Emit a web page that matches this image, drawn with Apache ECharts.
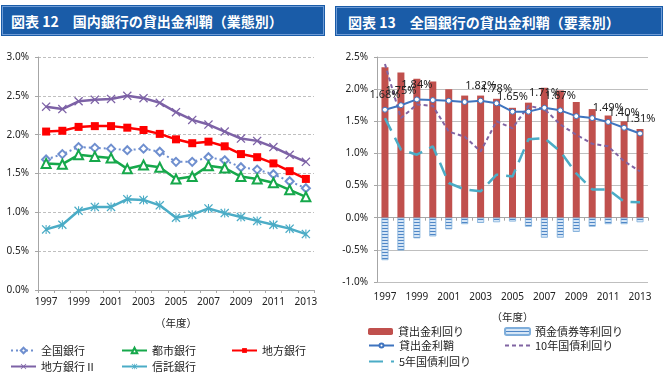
<!DOCTYPE html>
<html>
<head>
<meta charset="utf-8">
<script src="https://cdn.jsdelivr.net/npm/echarts@6/dist/echarts.min.js"></script>
<style>
html,body{margin:0;padding:0;background:#fff;}
#wrap{position:relative;width:667px;height:386px;overflow:hidden;}
#chart{position:absolute;left:0;top:0;width:667px;height:386px;}
.hdr{position:absolute;background:#1A5CA8;color:#fff;font-family:"Noto Sans CJK JP",sans-serif;font-weight:bold;font-size:14px;line-height:28px;box-sizing:border-box;border:1px solid #6E9BD6;outline:1px solid #1A5CA8;white-space:nowrap;}
</style>
</head>
<body>
<div id="wrap">
<div id="chart"></div>
<div class="hdr" style="left:2px;top:6px;width:322px;height:29px;padding-left:8px;">図表 12　国内銀行の貸出金利鞘（業態別）</div>
<div class="hdr" style="left:336px;top:7px;width:326px;height:28px;padding-left:11px;">図表 13　全国銀行の貸出金利鞘（要素別）</div>
</div>
<script>
// ---------- data ----------
var years = ['1997','1998','1999','2000','2001','2002','2003','2004','2005','2006','2007','2008','2009','2010','2011','2012','2013'];

// Chart 12 (%)
var zenkoku   = [1.68,1.75,1.84,1.83,1.82,1.80,1.82,1.78,1.65,1.65,1.71,1.67,1.58,1.55,1.49,1.40,1.31];
var toshi     = [1.63,1.62,1.74,1.72,1.70,1.56,1.61,1.58,1.43,1.46,1.60,1.57,1.46,1.43,1.38,1.29,1.20];
var chiho     = [2.04,2.05,2.10,2.11,2.11,2.09,2.06,2.01,1.94,1.89,1.91,1.85,1.75,1.71,1.63,1.53,1.43];
var chiho2    = [2.36,2.33,2.43,2.45,2.46,2.50,2.47,2.41,2.29,2.19,2.13,2.04,1.95,1.92,1.84,1.74,1.65];
var shintaku  = [0.78,0.84,1.02,1.07,1.07,1.17,1.16,1.09,0.93,0.97,1.05,0.99,0.94,0.89,0.84,0.79,0.72];

// Chart 13 (%)
var loanYield    = [2.34,2.26,2.16,2.12,2.00,1.90,1.90,1.85,1.71,1.79,2.02,1.98,1.80,1.69,1.59,1.50,1.38];
var depositYield = [-0.66,-0.51,-0.32,-0.29,-0.18,-0.10,-0.08,-0.07,-0.06,-0.14,-0.31,-0.31,-0.22,-0.14,-0.10,-0.10,-0.07];
var loanSpread   = [1.68,1.75,1.84,1.83,1.82,1.80,1.82,1.78,1.65,1.65,1.71,1.67,1.58,1.55,1.49,1.40,1.31];
var jgb10        = [2.39,1.55,1.76,1.74,1.34,1.26,1.03,1.50,1.39,1.74,1.69,1.45,1.29,1.15,1.11,0.88,0.72];
var jgb5         = [1.55,1.06,0.98,1.11,0.54,0.44,0.41,0.67,0.64,1.22,1.24,1.03,0.69,0.44,0.44,0.25,0.24];
var labeledYears = ['1997','1998','1999','2003','2004','2005','2007','2008','2011','2012','2013'];

var leftTicks  = [0,0.5,1.0,1.5,2.0,2.5,3.0];
var rightTicks = [-1.0,-0.5,0,0.5,1.0,1.5,2.0,2.5];

// ---------- styles ----------
var NUMF = '"Noto Sans", sans-serif';
var JPF = '"Noto Sans CJK JP", sans-serif';
var xSym = 'path://M0,1L1,0L5,4L9,0L10,1L6,5L10,9L9,10L5,6L1,10L0,9L4,5Z';
var astSym = 'path://M0,1L1,0L5,4L9,0L10,1L6,5L10,9L9,10L5,6L1,10L0,9L4,5Z M4.4,0L5.6,0L5.6,10L4.4,10Z';

var pc = document.createElement('canvas');
pc.width = 4; pc.height = 3;
var g = pc.getContext('2d');
g.fillStyle = '#D6E6F6'; g.fillRect(0,0,4,3);
g.fillStyle = '#4F86C6'; g.fillRect(0,0,4,1);

var chart = echarts.init(document.getElementById('chart'), null, {renderer:'canvas'});

function catAxis(gi, margin, nameGap) {
  return {
    type:'category', gridIndex: gi, data: years, boundaryGap: true,
    axisLine:{show:true, lineStyle:{color:'#A6A6A6'}},
    axisTick:{show:true, interval:0, length:3, lineStyle:{color:'#A6A6A6'}},
    axisLabel:{interval:1, color:'#222', fontFamily:NUMF, fontSize:10, margin:margin},
    name:'（年度）', nameLocation:'middle', nameGap:nameGap,
    nameTextStyle:{fontFamily:JPF, fontSize:10.5, color:'#222'}
  };
}

var spreadData = loanSpread.map(function(v,i){
  var show = labeledYears.indexOf(years[i]) >= 0;
  return {value:v, label:{show:show}};
});

var legendBase = {itemWidth:25, itemHeight:8, textStyle:{fontFamily:JPF, fontSize:11, color:'#222'}, itemGap:4, padding:0, selectedMode:false};
function lg(name, left, top, extra) {
  var o = Object.assign({}, legendBase, {data:[name], left:left, top:top});
  return Object.assign(o, extra || {});
}

var option = {
  animation:false,
  grid:[
    {left:38, top:57, width:276, height:233},
    {left:377, top:57, width:271, height:225}
  ],
  xAxis:[ catAxis(0, 7, 28), catAxis(1, 10, 30) ],
  yAxis:[
    {type:'value', gridIndex:0, min:0, max:3, interval:0.5,
     axisLine:{show:true, lineStyle:{color:'#A6A6A6'}},
     axisTick:{show:true, length:3, lineStyle:{color:'#A6A6A6'}},
     splitLine:{lineStyle:{color:'#BFBFBF', type:[3,2]}},
     axisLabel:{formatter:function(v){return v.toFixed(1)+'%';}, color:'#222', fontFamily:NUMF, fontSize:10, margin:9}},
    {type:'value', gridIndex:1, min:-1, max:2.5, interval:0.5,
     axisLine:{show:true, lineStyle:{color:'#A6A6A6'}},
     axisTick:{show:true, length:3, lineStyle:{color:'#A6A6A6'}},
     splitLine:{lineStyle:{color:'#BFBFBF', type:'solid'}},
     axisLabel:{formatter:function(v){return v.toFixed(1)+'%';}, color:'#222', fontFamily:NUMF, fontSize:10, margin:9}}
  ],
  legend:[
    lg('全国銀行', 10, 345, {itemHeight:7}),
    lg('都市銀行', 121, 345, {itemHeight:7}),
    lg('地方銀行', 231, 345, {itemHeight:6}),
    lg('地方銀行Ⅱ', 10, 361, {itemHeight:7}),
    lg('信託銀行', 121, 361, {itemHeight:7}),
    lg('貸出金利回り', 368, 326, {itemHeight:7}),
    lg('預金債券等利回り', 504, 326, {itemHeight:7}),
    lg('貸出金利鞘', 368, 340, {itemHeight:5}),
    lg('10年国債利回り', 504, 340, {itemStyle:{opacity:0}}),
    lg('5年国債利回り', 368, 356, {itemStyle:{opacity:0}})
  ],
  series:[
    {name:'全国銀行', type:'line', xAxisIndex:0, yAxisIndex:0, data:zenkoku,
     symbol:'emptyDiamond', symbolSize:8, color:'#6F8FCF',
     lineStyle:{width:2, type:[2,3], color:'#6F8FCF'}, itemStyle:{color:'#6F8FCF', borderWidth:1.2}},
    {name:'都市銀行', type:'line', xAxisIndex:0, yAxisIndex:0, data:toshi,
     symbol:'emptyTriangle', symbolSize:9, color:'#16A84B',
     lineStyle:{width:2.5, color:'#16A84B'}, itemStyle:{color:'#16A84B', borderWidth:1.2}},
    {name:'地方銀行', type:'line', xAxisIndex:0, yAxisIndex:0, data:chiho,
     symbol:'rect', symbolSize:8, color:'#FF0000',
     lineStyle:{width:2.5, color:'#FF0000'}, itemStyle:{color:'#FF0000'}},
    {name:'地方銀行Ⅱ', type:'line', xAxisIndex:0, yAxisIndex:0, data:chiho2,
     symbol:xSym, symbolSize:9, color:'#7D62A6',
     lineStyle:{width:2.5, color:'#7D62A6'}, itemStyle:{color:'#7D62A6'}},
    {name:'信託銀行', type:'line', xAxisIndex:0, yAxisIndex:0, data:shintaku,
     symbol:astSym, symbolSize:9, color:'#4BACC6',
     lineStyle:{width:2.5, color:'#4BACC6'}, itemStyle:{color:'#4BACC6'}},

    {name:'貸出金利回り', type:'bar', xAxisIndex:1, yAxisIndex:1, data:loanYield,
     barWidth:7, barGap:'-100%', color:'#C0504D', itemStyle:{color:'#C0504D'}},
    {name:'預金債券等利回り', type:'bar', xAxisIndex:1, yAxisIndex:1, data:depositYield,
     barWidth:7, barGap:'-100%', color:'#9DC3E6',
     itemStyle:{color:{image:pc, repeat:'repeat'}, borderColor:'#7FAEDB', borderWidth:0.8}},
    {name:'貸出金利鞘', type:'line', xAxisIndex:1, yAxisIndex:1, data:spreadData, z:5,
     symbol:'circle', symbolSize:5, color:'#3F74BF',
     lineStyle:{width:2, color:'#3F74BF'}, itemStyle:{color:'#fff', borderColor:'#3F74BF', borderWidth:1},
     label:{position:'top', distance:6, formatter:function(p){return p.value.toFixed(2)+'%';},
            fontFamily:NUMF, fontSize:11, color:'#222'}},
    {name:'10年国債利回り', type:'line', xAxisIndex:1, yAxisIndex:1, data:jgb10, z:4,
     symbol:'none', color:'#8064A2', lineStyle:{width:2, type:[4,3], color:'#8064A2'}},
    {name:'5年国債利回り', type:'line', xAxisIndex:1, yAxisIndex:1, data:jgb5, z:4,
     symbol:'none', color:'#4BACC6', lineStyle:{width:2.5, type:[14,8], color:'#4BACC6'}}
  ]
};
chart.setOption(option);
</script>
</body>
</html>
